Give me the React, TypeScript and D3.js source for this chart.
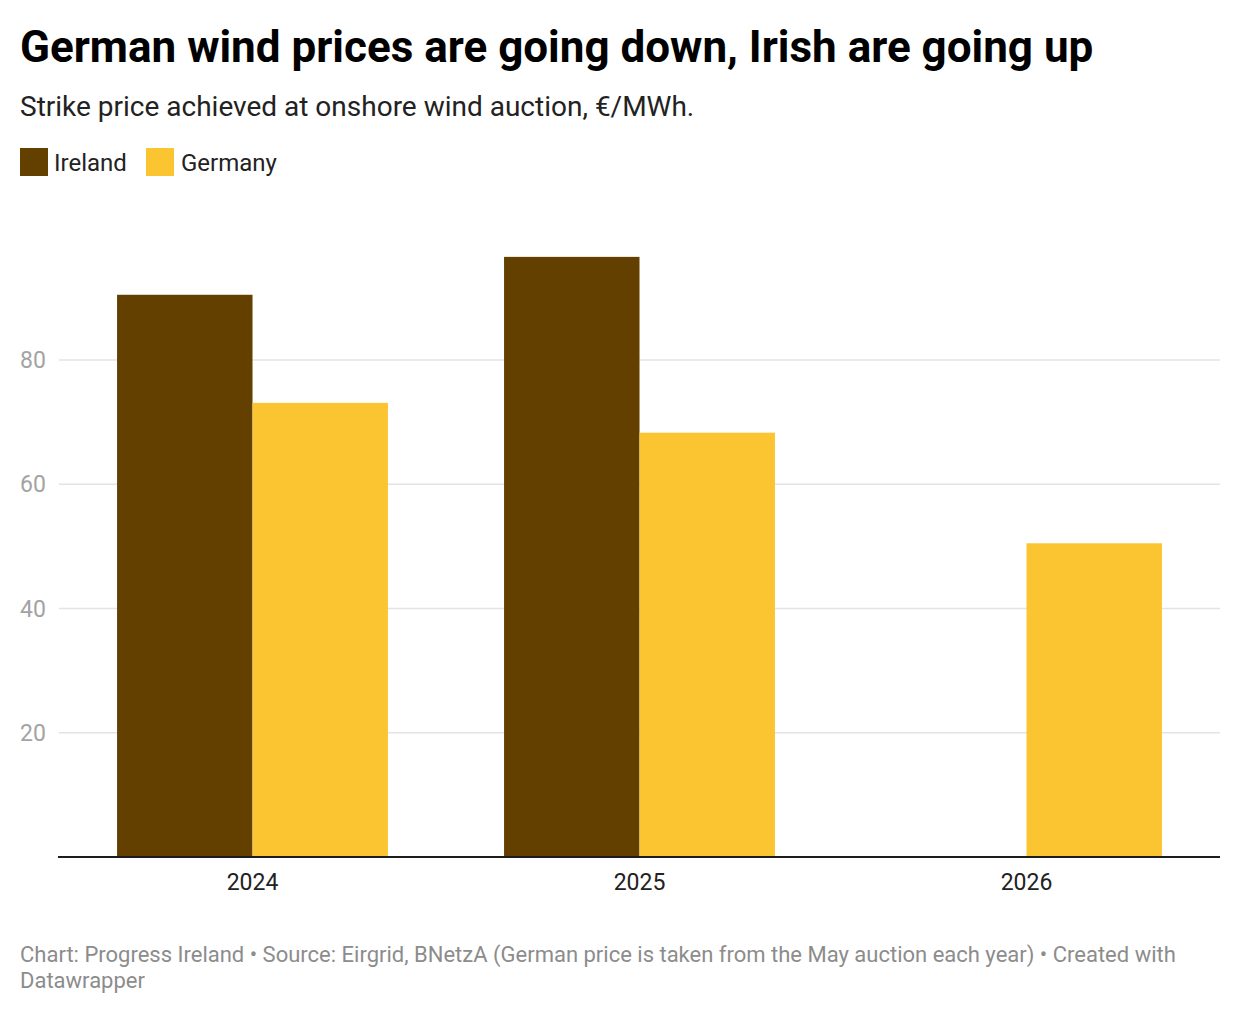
import { scaleBand, scaleLinear } from "d3";

const YEARS = ["2024", "2025", "2026"];
const SERIES = ["Ireland", "Germany"] as const;
const IRELAND = [90.5, 96.6, null];
const GERMANY = [73.1, 68.3, 50.5];
const Y_TICKS = [20, 40, 60, 80];

const COLORS: Record<string, string> = {
  Ireland: "#633f00",
  Germany: "#fbc532",
};

const W = 1240;
const H = 1014;
const M = { left: 59, right: 20, top: 210, bottom: 157 };
const FONT = "Roboto, 'Noto Sans', sans-serif";

export default function App() {
  const x = scaleBand<string>()
    .domain(YEARS)
    .range([M.left, W - M.right])
    .paddingInner(0.3)
    .paddingOuter(0.15);
  const xs = scaleBand<string>()
    .domain(SERIES as unknown as string[])
    .range([0, x.bandwidth()]);
  const y = scaleLinear()
    .domain([0, 80])
    .range([H - M.bottom, H - M.bottom - 497]);

  const values: Record<string, (number | null)[]> = {
    Ireland: IRELAND,
    Germany: GERMANY,
  };

  return (
    <svg
      width={W}
      height={H}
      style={{ position: "absolute", left: 0, top: 0, fontFamily: FONT }}
    >
      <rect width={W} height={H} fill="#fff" />
      <text x={20} y={62} fontSize={44} fontWeight={700} fill="#000">
        German wind prices are going down, Irish are going up
      </text>
      <text x={20} y={116} fontSize={28} fill="#222">
        Strike price achieved at onshore wind auction, €/MWh.
      </text>

      {/* legend */}
      <g>
        <rect x={20} y={148} width={28} height={28} fill={COLORS.Ireland} />
        <text x={54} y={171} fontSize={24} fill="#222">
          Ireland
        </text>
        <rect x={146} y={148} width={28} height={28} fill={COLORS.Germany} />
        <text x={181} y={171} fontSize={24} fill="#222">
          Germany
        </text>
      </g>

      {/* grid */}
      {Y_TICKS.map((t) => (
        <g key={t}>
          <line
            x1={M.left}
            x2={W - M.right}
            y1={y(t)}
            y2={y(t)}
            stroke="#e3e3e3"
            strokeWidth={1.5}
          />
          <text x={20} y={y(t) + 8} fontSize={23} fill="#a3a3a3">
            {t}
          </text>
        </g>
      ))}

      {/* bars */}
      {YEARS.map((yr, i) => (
        <g key={yr} transform={`translate(${x(yr)},0)`}>
          {SERIES.map((s) => {
            const v = values[s][i];
            if (v == null) return null;
            return (
              <rect
                key={s}
                x={xs(s)}
                width={xs.bandwidth()}
                y={y(v)}
                height={y(0) - y(v)}
                fill={COLORS[s]}
              />
            );
          })}
          <text
            x={x.bandwidth() / 2}
            y={y(0) + 33}
            fontSize={23}
            fill="#222"
            textAnchor="middle"
          >
            {yr}
          </text>
        </g>
      ))}

      <line
        x1={M.left - 1}
        x2={W - M.right}
        y1={y(0)}
        y2={y(0)}
        stroke="#1d1d1d"
        strokeWidth={2}
      />

      <text x={20} y={962} fontSize={22} fill="#8c8c8c">
        Chart: Progress Ireland • Source: Eirgrid, BNetzA (German price is taken
        from the May auction each year) • Created with
      </text>
      <text x={20} y={988} fontSize={22} fill="#8c8c8c">
        Datawrapper
      </text>
    </svg>
  );
}
